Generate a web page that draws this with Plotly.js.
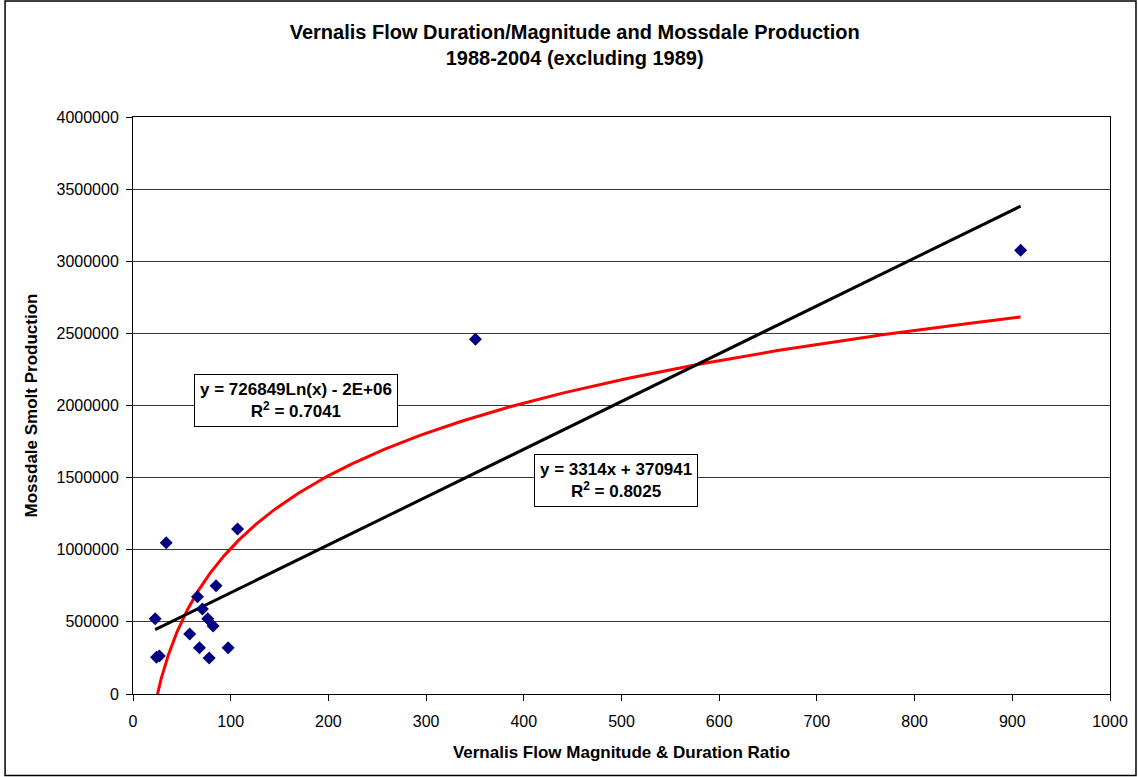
<!DOCTYPE html>
<html>
<head>
<meta charset="utf-8">
<script src="https://cdn.plot.ly/plotly-3.0.1.min.js"></script>
<style>
  html, body { margin: 0; padding: 0; background: #fff; }
  #chart { width: 1138px; height: 777px; }
</style>
</head>
<body>
<div id="chart"></div>
<script>
// ---- Data ----
const flowRatio = [34, 107, 85, 66, 71, 76.5, 82, 22.7, 58, 24, 27, 68, 78, 97.4, 350.5, 908.5];
const smoltProduction = [1048000, 1143000, 750000, 674000, 589000, 522000, 471000, 522000, 416000, 255000, 263000, 321000, 249000, 321000, 2460000, 3076000];

// Trendline coefficients as printed on the chart (log intercept shown rounded as 2E+06)
const linSlope = 3314;
const linIntercept = 370941;
const logCoef = 726849;
const logIntercept = -2338000;

const titleText = 'Vernalis Flow Duration/Magnitude and Mossdale Production<br>1988-2004 (excluding 1989)';
const xTitle = 'Vernalis Flow Magnitude &amp; Duration Ratio';
const yTitle = 'Mossdale Smolt Production';
const logLabel = 'y = 726849Ln(x) - 2E+06<br>R<sup>2</sup> = 0.7041';
const linLabel = 'y = 3314x + 370941<br>R<sup>2</sup> = 0.8025';

// ---- Trendlines over the data range ----
const xMin = Math.min(...flowRatio);
const xMax = Math.max(...flowRatio);
const linX = [xMin, xMax];
const linY = linX.map(x => linSlope * x + linIntercept);
const logX = [];
const nPts = 300;
for (let i = 0; i <= nPts; i++) {
  logX.push(xMin * Math.pow(xMax / xMin, i / nPts));
}
const logY = logX.map(x => logCoef * Math.log(x) + logIntercept);

const FONT = 'Liberation Sans, Arial, sans-serif';

const traces = [
  {
    x: logX, y: logY, type: 'scatter', mode: 'lines',
    line: { color: '#ff0000', width: 3 }, hoverinfo: 'skip'
  },
  {
    x: linX, y: linY, type: 'scatter', mode: 'lines',
    line: { color: '#000000', width: 3 }, hoverinfo: 'skip'
  },
  {
    x: flowRatio, y: smoltProduction, type: 'scatter', mode: 'markers',
    marker: { symbol: 'diamond', size: 10, color: '#000080', line: { width: 0 } },
    cliponaxis: false
  }
];

const layout = {
  width: 1138, height: 777,
  margin: { l: 132.5, r: 28, t: 117, b: 83 },
  paper_bgcolor: '#ffffff', plot_bgcolor: '#ffffff',
  showlegend: false,
  hovermode: false,
  font: { family: FONT, color: '#000', size: 16 },
  title: {
    text: titleText,
    font: { family: FONT, size: 20, color: '#000', weight: 'bold' },
    xref: 'container', x: 0.505, xanchor: 'center',
    yref: 'container', y: 1 - 39 / 777, yanchor: 'top'
  },
  xaxis: {
    range: [0, 1000], dtick: 100, tick0: 0,
    showgrid: false, zeroline: false,
    showline: true, linecolor: '#000', linewidth: 1, mirror: true,
    ticks: 'outside', ticklen: 6, tickcolor: '#000', tickwidth: 1,
    tickfont: { family: FONT, size: 16, color: '#000' },
    ticklabelstandoff: 7,
    title: { text: xTitle, font: { family: FONT, size: 17, color: '#000', weight: 'bold' }, standoff: 16 }
  },
  yaxis: {
    range: [0, 4000000], dtick: 500000, tick0: 0,
    showgrid: true, gridcolor: '#3a3a3a', gridwidth: 1,
    zeroline: false,
    showline: true, linecolor: '#000', linewidth: 1, mirror: true,
    ticks: 'outside', ticklen: 6, tickcolor: '#000', tickwidth: 1,
    tickformat: 'd',
    tickfont: { family: FONT, size: 16, color: '#000' },
    ticklabelstandoff: 4,
    title: { text: yTitle, font: { family: FONT, size: 17, color: '#000', weight: 'bold' }, standoff: 14 }
  },
  annotations: [
    {
      x: 167.3, y: 2037000, xref: 'x', yref: 'y', showarrow: false,
      text: logLabel, align: 'center',
      font: { family: FONT, size: 17, color: '#000', weight: 'bold' },
      bgcolor: '#ffffff', bordercolor: '#000', borderwidth: 1, borderpad: 5
    },
    {
      x: 494.8, y: 1482800, xref: 'x', yref: 'y', showarrow: false,
      text: linLabel, align: 'center',
      font: { family: FONT, size: 17, color: '#000', weight: 'bold' },
      bgcolor: '#ffffff', bordercolor: '#000', borderwidth: 1, borderpad: 5
    }
  ],
  shapes: [
    {
      type: 'rect', xref: 'paper', yref: 'paper', layer: 'above',
      x0: (4.5 - 132.5) / 977.5, x1: (1136 - 132.5) / 977.5,
      y0: (694 - 775.5) / 577, y1: (694 - 1) / 577,
      line: { color: '#000', width: 1.5 }, fillcolor: 'rgba(0,0,0,0)'
    }
  ]
};

Plotly.newPlot('chart', traces, layout, { staticPlot: true, displayModeBar: false });
</script>
</body>
</html>
